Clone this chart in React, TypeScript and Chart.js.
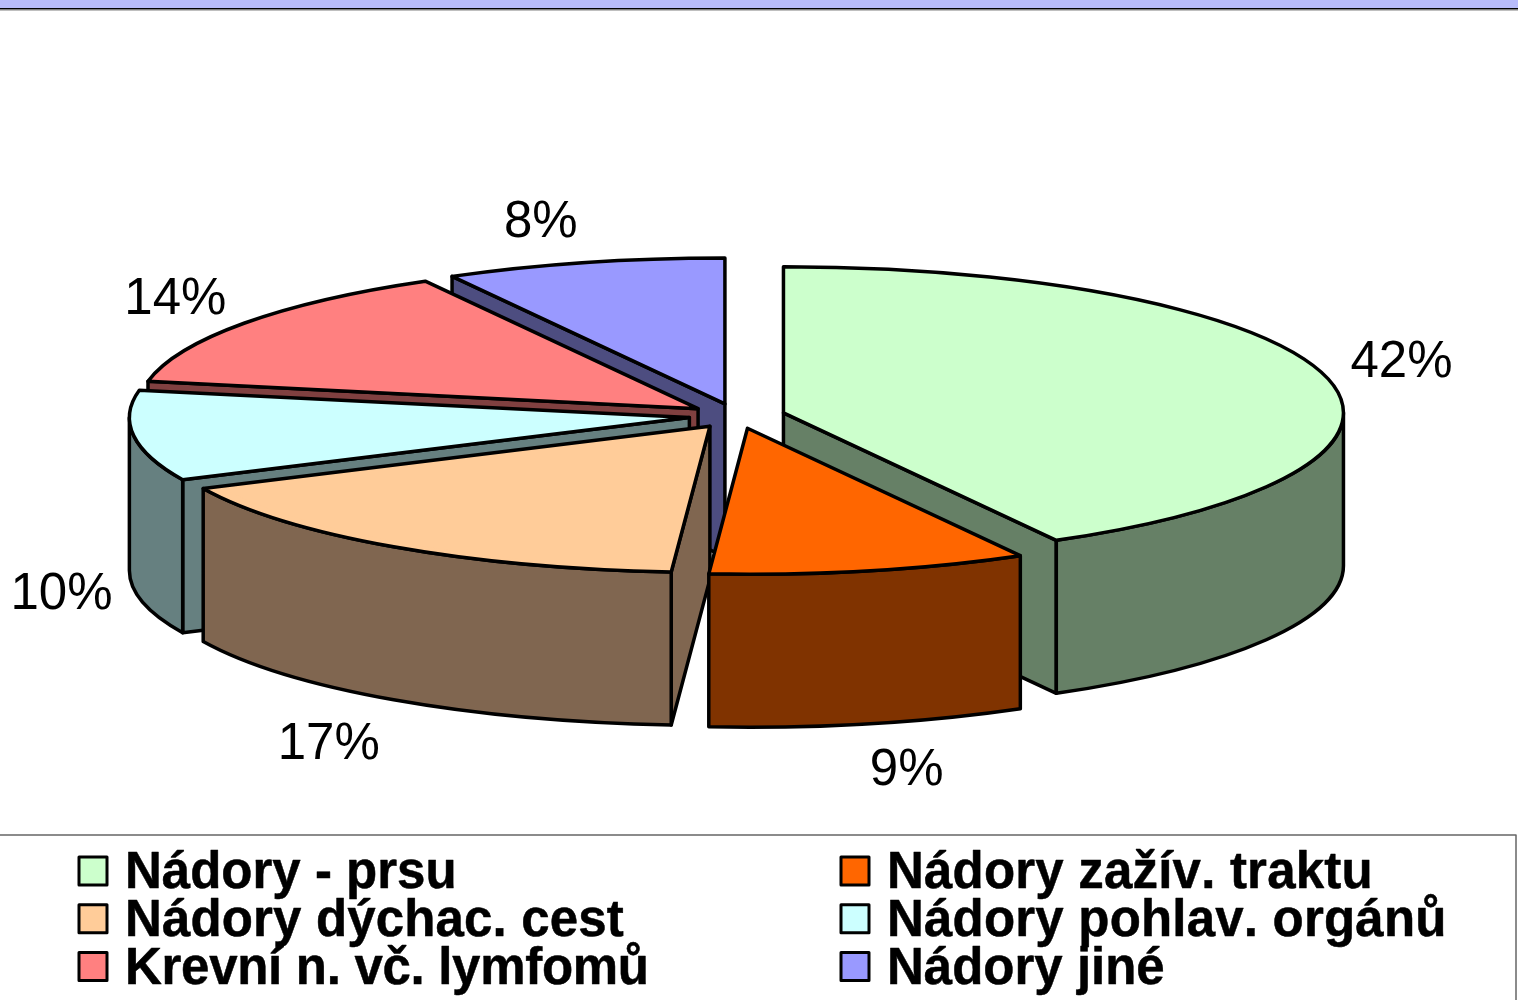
import React, { useEffect, useRef } from "react";
import { Chart, registerables } from "chart.js";

Chart.register(...registerables);

const categories = [
  "Nádory - prsu",
  "Nádory zažív. traktu",
  "Nádory dýchac. cest",
  "Nádory pohlav. orgánů",
  "Krevní n. vč. lymfomů",
  "Nádory jiné",
];
const shares = [41.9, 9.2, 16.9, 10, 13.9, 8.1];
const topColors = ["#CCFFCC", "#FF6600", "#FFCC99", "#CCFFFF", "#FF8080", "#9999FF"];
const wallColors = ["#668066", "#803300", "#806650", "#668080", "#804040", "#4D4D80"];
const paintOrder = [5, 4, 3, 0, 2, 1];
const labelNudgeX = [-13, 17, -13, 19, 6, -20];
const labelNudgeY = [-1, 2, 7, 0, 4, 5];
const legendSpacing = [0, 0.2, 0.15, 0.2, -0.3, 0];

// Screen geometry of the tilted pie. An exploded arc moves by offset/4 and grows by offset/8.
const PIE = { cx: 737, cy: 416, rx: 560, ry: 146, depth: 153, explode: 48, r: 400 };
const SCALE_X = (PIE.rx - PIE.explode / 2) / PIE.r;
const SCALE_Y = (SCALE_X * PIE.ry) / PIE.rx;
const FONT = '"Liberation Sans", Arial, sans-serif';
const OUTLINE = 3.5;

function geom(arc: any) {
  const start = arc.startAngle as number;
  const end = arc.endAngle as number;
  const mid = (start + end) / 2;
  const ox = PIE.cx + Math.cos(mid) * PIE.explode;
  const oy = PIE.cy + (Math.sin(mid) * PIE.explode * PIE.ry) / PIE.rx;
  const pt = (a: number): [number, number] => [ox + Math.cos(a) * PIE.rx, oy + Math.sin(a) * PIE.ry];
  return { start, end, mid, ox, oy, pt };
}

function fillStroke(ctx: CanvasRenderingContext2D, color: string) {
  ctx.fillStyle = color;
  ctx.fill();
  ctx.stroke();
}

const pie3d = {
  id: "pie3d",
  beforeDraw(chart: any) {
    const { ctx, width, height } = chart;
    ctx.save();
    ctx.fillStyle = "#FFFFFF";
    ctx.fillRect(0, 0, width, height);
    ctx.fillStyle = "#B8BCFA";
    ctx.fillRect(0, 0, width, 8);
    ctx.fillStyle = "#000000";
    ctx.fillRect(0, 8, width, 1.5);
    ctx.fillStyle = "#808080";
    ctx.fillRect(0, 9.5, width, 1);
    ctx.restore();
  },
  beforeDatasetsDraw(chart: any) {
    const { ctx } = chart;
    const arcs = chart.getDatasetMeta(0).data;
    ctx.save();
    ctx.lineWidth = OUTLINE;
    ctx.strokeStyle = "#000000";
    ctx.lineJoin = "round";
    for (const i of paintOrder) {
      const g = geom(arcs[i]);
      const wall = wallColors[i];
      const radial = (a: number) => {
        const [x, y] = g.pt(a);
        ctx.beginPath();
        ctx.moveTo(g.ox, g.oy);
        ctx.lineTo(x, y);
        ctx.lineTo(x, y + PIE.depth);
        ctx.lineTo(g.ox, g.oy + PIE.depth);
        ctx.closePath();
        fillStroke(ctx, wall);
      };
      if (Math.cos(g.start) < -1e-6) radial(g.start);
      if (Math.cos(g.end) > 1e-6) radial(g.end);
      const a0 = Math.max(g.start, 0);
      const a1 = Math.min(g.end, Math.PI);
      if (a1 > a0) {
        ctx.beginPath();
        ctx.ellipse(g.ox, g.oy, PIE.rx, PIE.ry, 0, a0, a1);
        ctx.ellipse(g.ox, g.oy + PIE.depth, PIE.rx, PIE.ry, 0, a1, a0, true);
        ctx.closePath();
        fillStroke(ctx, wall);
      }
    }
    // Exact wedge underlay: an exploded library arc is slightly narrower in angle.
    arcs.forEach((arc: any, i: number) => {
      const g = geom(arc);
      ctx.beginPath();
      ctx.moveTo(g.ox, g.oy);
      ctx.ellipse(g.ox, g.oy, PIE.rx, PIE.ry, 0, g.start, g.end);
      ctx.closePath();
      ctx.fillStyle = topColors[i];
      ctx.fill();
    });
    ctx.restore();
    // Flatten the library's circular slices into the tilted ellipse.
    const arc0 = arcs[0];
    ctx.save();
    ctx.translate(PIE.cx, PIE.cy);
    ctx.scale(SCALE_X, SCALE_Y);
    ctx.translate(-arc0.x, -arc0.y);
  },
  afterDatasetsDraw(chart: any) {
    const { ctx } = chart;
    ctx.restore();
    const arcs = chart.getDatasetMeta(0).data;
    ctx.save();
    ctx.lineWidth = OUTLINE;
    ctx.strokeStyle = "#000000";
    ctx.lineJoin = "round";
    arcs.forEach((arc: any) => {
      const g = geom(arc);
      ctx.beginPath();
      ctx.moveTo(g.ox, g.oy);
      ctx.ellipse(g.ox, g.oy, PIE.rx, PIE.ry, 0, g.start, g.end);
      ctx.closePath();
      ctx.stroke();
    });
    // percentage labels
    ctx.fillStyle = "#000000";
    ctx.font = `51px ${FONT}`;
    ctx.textAlign = "center";
    ctx.textBaseline = "middle";
    arcs.forEach((arc: any, i: number) => {
      const g = geom(arc);
      const lower = Math.sin(g.mid) > 0 ? PIE.depth : 0;
      const x = PIE.cx + Math.cos(g.mid) * 700 + labelNudgeX[i];
      const y = PIE.cy + Math.sin(g.mid) * 205 + lower + labelNudgeY[i];
      ctx.fillText(`${Math.round(shares[i])}%`, x, y);
    });
    // legend frame and entries
    ctx.lineWidth = 1.5;
    ctx.strokeStyle = "#666666";
    ctx.strokeRect(-2, 835, 1518, 170);
    ctx.font = `bold 51px ${FONT}`;
    ctx.fontKerning = "none";
    ctx.textAlign = "left";
    ctx.textBaseline = "alphabetic";
    categories.forEach((name, i) => {
      const col = i % 2;
      const row = Math.floor(i / 2);
      const bx = col === 0 ? 79 : 841;
      const by = 857 + row * 47.7;
      ctx.lineWidth = 3;
      ctx.strokeStyle = "#000000";
      ctx.fillStyle = topColors[i];
      ctx.fillRect(bx, by, 28, 28);
      ctx.strokeRect(bx, by, 28, 28);
      ctx.fillStyle = "#000000";
      ctx.lineWidth = 0.5;
      (ctx as any).letterSpacing = `${legendSpacing[i]}px`;
      ctx.fillText(name, bx + 46, 888 + row * 48);
      ctx.strokeText(name, bx + 46, 888 + row * 48);
      (ctx as any).letterSpacing = "0px";
    });
    ctx.restore();
  },
};

export default function App() {
  const ref = useRef<HTMLCanvasElement>(null);
  useEffect(() => {
    const chart = new Chart(ref.current!, {
      type: "pie",
      data: {
        labels: categories,
        datasets: [
          {
            data: shares,
            backgroundColor: topColors,
            borderWidth: 0,
            offset: (4 * PIE.explode) / SCALE_X,
            clip: false,
          } as any,
        ],
      },
      options: {
        responsive: false,
        animation: false,
        events: [],
        radius: PIE.r,
        rotation: 0,
        plugins: { legend: { display: false }, tooltip: { enabled: false } },
      } as any,
      plugins: [pie3d as any],
    });
    return () => chart.destroy();
  }, []);
  return (
    <div style={{ position: "fixed", left: 0, top: 0, width: 1518, height: 1000, overflow: "hidden", background: "#fff" }}>
      <canvas ref={ref} width={1518} height={1000} style={{ display: "block" }} />
    </div>
  );
}
